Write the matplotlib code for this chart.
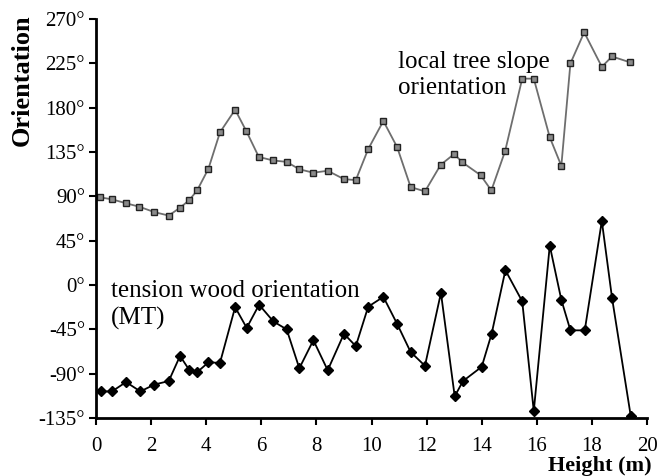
import matplotlib
matplotlib.use('Agg')
import matplotlib.pyplot as plt

# heights (m) and orientations (degrees)
slope_h = [0.15, 0.58, 1.09, 1.57, 2.12, 2.64, 3.05, 3.38, 3.67, 4.08, 4.5, 5.05, 5.46,
           5.91, 6.42, 6.92, 7.38, 7.89, 8.41, 9.0, 9.43, 9.88, 10.43, 10.93, 11.42,
           11.94, 12.51, 13.0, 13.3, 13.96, 14.35, 14.85, 15.47, 15.89, 16.47, 16.89,
           17.22, 17.72, 18.36, 18.73, 19.39]
slope_deg = [89, 87, 83, 79.5, 74, 70.5, 78.5, 86, 96, 118, 155, 178, 156, 130, 126.5,
             125, 117.5, 114, 116, 107.5, 106.5, 138, 166.5, 140, 99.5, 95, 122, 133,
             124.5, 111.5, 96, 136, 209.5, 209.5, 150, 121, 225, 256.5, 221.5, 232, 226]

tw_h = [0.18, 0.58, 1.09, 1.61, 2.12, 2.64, 3.05, 3.38, 3.67, 4.08, 4.5, 5.05, 5.47,
        5.92, 6.44, 6.92, 7.38, 7.89, 8.41, 9.0, 9.43, 9.88, 10.43, 10.94, 11.42, 11.94,
        12.52, 13.02, 13.32, 14.0, 14.36, 14.86, 15.47, 15.89, 16.47, 16.89, 17.22,
        17.74, 18.36, 18.73, 19.41]
tw_deg = [-108, -108, -98.5, -108, -101, -97.5, -72, -86, -88.5, -78.5, -79, -22.5,
          -43.5, -20, -37, -45, -84.5, -56, -86.5, -49.5, -62, -22, -12, -40, -68,
          -82, -8, -113, -97.5, -83, -49.5, 15, -16.5, -128, 40, -15, -46, -46, 65,
          -13, -133]

yticks = [-135, -90, -45, 0, 45, 90, 135, 180, 225, 270]
ytick_labels = ['-135°', '-90°', '-45°', '0°', '45°', '90°', '135°', '180°', '225°', '270°']
xticks = [0, 2, 4, 6, 8, 10, 12, 14, 16, 18, 20]

plt.rcParams['font.family'] = ['Liberation Serif', 'DejaVu Serif']

fig = plt.figure(figsize=(6.58, 4.76), dpi=100)
ax = fig.add_axes([0.1459, 0.1218, 0.8374, 0.8382])

ax.plot(slope_h, slope_deg, color='#6e6e6e', lw=1.3, marker='s', ms=4.5,
        markerfacecolor='#8a8a8a', markeredgecolor='#222222', markeredgewidth=1.0)
ax.plot(tw_h, tw_deg, color='black', lw=1.3, marker='D', ms=5,
        markerfacecolor='black', markeredgecolor='black')

ax.set_xlim(0, 20)
ax.set_ylim(-135, 270)
ax.set_xticks(xticks)
ax.set_yticks(yticks)
ax.set_yticklabels(ytick_labels)
ax.tick_params(axis='both', labelsize=15, width=1.5, length=5)
ax.tick_params(axis='y', direction='out', pad=3)
ax.tick_params(axis='x', direction='out', pad=9)
for s in ['top', 'right']:
    ax.spines[s].set_visible(False)
for s in ['left', 'bottom']:
    ax.spines[s].set_linewidth(2)
for lab in ax.get_xticklabels() + ax.get_yticklabels():
    lab.set_clip_on(False)

ax.text(10.96, 238, 'local tree slope\norientation', fontsize=18, va='top', ha='left',
        linespacing=1.25)
ax.text(0.54, 5, 'tension wood orientation\n(MT)', fontsize=18, va='top', ha='left',
        linespacing=1.25)

fig.text(0.034, 0.832, 'Orientation', rotation=90, fontsize=19, fontweight='bold',
         ha='center', va='center')
fig.text(0.991, 0.0, 'Height (m)', fontsize=16, fontweight='bold', ha='right',
         va='bottom')

fig.savefig('out.png', dpi=100)
